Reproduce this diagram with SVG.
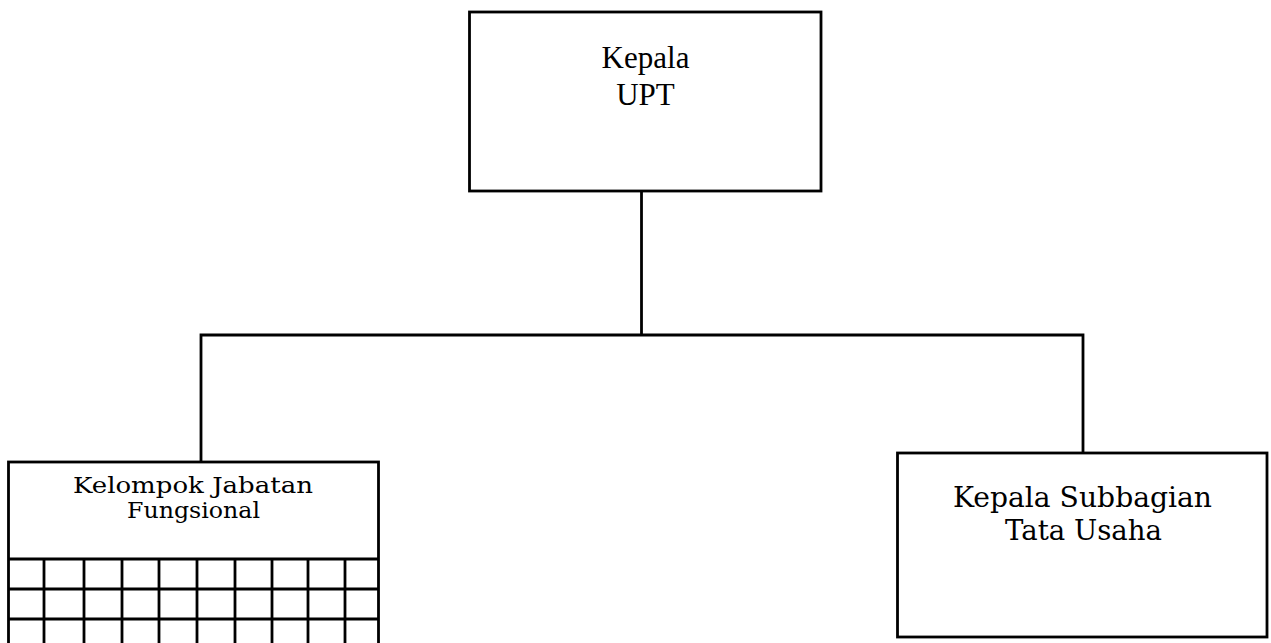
<svg xmlns="http://www.w3.org/2000/svg" width="1271" height="643" viewBox="0 0 1271 643">
<style>
.box{fill:#fff;stroke:#000;stroke-width:2.8}
.ln{fill:none;stroke:#000;stroke-width:2.8}
.tnr{font-family:'Liberation Serif','Times New Roman',Times,serif;font-size:31px;fill:#000}
.bk{font-family:'DejaVu Serif','Liberation Serif',serif;fill:#000}
</style>
<rect width="1271" height="643" fill="#fff"/>
<g id="connectors">
<line class="ln" x1="641.5" y1="191" x2="641.5" y2="335"/>
<polyline class="ln" points="201,462 201,335 1083,335 1083,453"/>
</g>
<g id="kepala-upt">
<rect class="box" x="469.5" y="12" width="351.5" height="179"/>
<text class="tnr" x="645.5" y="68" text-anchor="middle">Kepala</text>
<text class="tnr" x="645.5" y="105" text-anchor="middle">UPT</text>
</g>
<g id="kelompok-jabatan-fungsional">
<rect class="box" x="8.5" y="462" width="370" height="200"/>
<line class="ln" x1="8.5" y1="559" x2="378.5" y2="559"/>
<line class="ln" x1="8.5" y1="589" x2="378.5" y2="589"/>
<line class="ln" x1="8.5" y1="619" x2="378.5" y2="619"/>
<line class="ln" x1="44" y1="559" x2="44" y2="643"/>
<line class="ln" x1="84" y1="559" x2="84" y2="643"/>
<line class="ln" x1="122" y1="559" x2="122" y2="643"/>
<line class="ln" x1="159" y1="559" x2="159" y2="643"/>
<line class="ln" x1="197" y1="559" x2="197" y2="643"/>
<line class="ln" x1="235" y1="559" x2="235" y2="643"/>
<line class="ln" x1="272" y1="559" x2="272" y2="643"/>
<line class="ln" x1="308" y1="559" x2="308" y2="643"/>
<line class="ln" x1="345" y1="559" x2="345" y2="643"/>
<text class="bk" font-size="23" x="193" y="493" text-anchor="middle" textLength="240" lengthAdjust="spacingAndGlyphs">Kelompok Jabatan</text>
<text class="bk" font-size="23" x="193.5" y="518" text-anchor="middle" textLength="133" lengthAdjust="spacingAndGlyphs">Fungsional</text>
</g>
<g id="kepala-subbagian-tata-usaha">
<rect class="box" x="897.5" y="453" width="369.5" height="184"/>
<text class="bk" font-size="27" x="1082.5" y="507" text-anchor="middle" textLength="259" lengthAdjust="spacingAndGlyphs">Kepala Subbagian</text>
<text class="bk" font-size="27" x="1083.5" y="540" text-anchor="middle" textLength="157" lengthAdjust="spacingAndGlyphs">Tata Usaha</text>
</g>
</svg>
